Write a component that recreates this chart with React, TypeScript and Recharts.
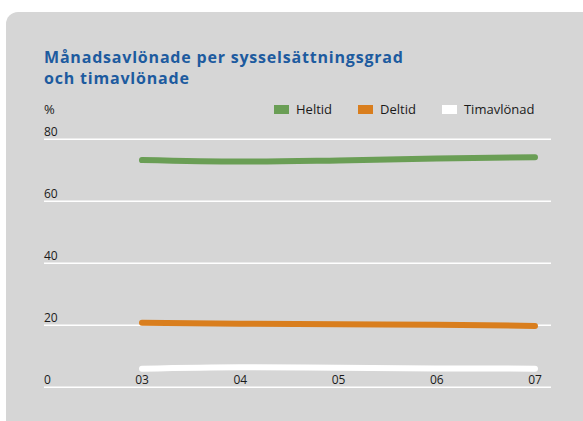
import React from "react";
import { LineChart, Line, XAxis, YAxis, CartesianGrid } from "recharts";

const years = ["03", "04", "05", "06", "07"];
const heltid = [73.3, 72.8, 73.2, 73.8, 74.2];
const deltid = [20.8, 20.5, 20.3, 20.2, 19.8];
const timavlonad = [6.0, 6.5, 6.3, 6.1, 6.0];
const yTicks = [0, 20, 40, 60, 80];

const seriesNames = ["Heltid", "Deltid", "Timavlönad"];
const seriesColors = ["#6a9e55", "#d97e1e", "#ffffff"];

const data = years.map((y, i) => ({
  year: y,
  Heltid: heltid[i],
  Deltid: deltid[i],
  Timavlönad: timavlonad[i],
}));

const FONT = "'Open Sans', 'Noto Sans', sans-serif";

const renderYTick = (props: any) => {
  const { y, payload } = props;
  return (
    <text x={44} y={y - 3} textAnchor="start" fontSize={12} fontFamily={FONT} fill="#1a1a1a">
      {payload.value}
    </text>
  );
};

const renderXTick = (props: any) => {
  const { x, payload } = props;
  return (
    <text x={x} y={384} textAnchor="middle" fontSize={12} fontFamily={FONT} fill="#1a1a1a">
      {payload.value}
    </text>
  );
};

export default function App() {
  return (
    <div style={{ position: "absolute", left: 0, top: 0, width: 583, height: 421, background: "#ffffff", overflow: "hidden" }}>
      <div style={{ position: "absolute", left: 6, top: 12, width: 600, height: 421, background: "#d6d6d6", borderRadius: 12 }} />
      <div
        style={{
          position: "absolute",
          left: 44,
          top: 46.7,
          fontFamily: FONT,
          fontWeight: 700,
          fontSize: 16,
          letterSpacing: 0.8,
          lineHeight: "21.8px",
          color: "#1d5b9f",
          whiteSpace: "nowrap",
        }}
      >
        <div>Månadsavlönade per sysselsättningsgrad</div>
        <div>och timavlönade</div>
      </div>
      <div style={{ position: "absolute", left: 44, top: 101, fontFamily: FONT, fontSize: 13, lineHeight: "16px", color: "#1a1a1a" }}>%</div>
      <div style={{ position: "absolute", left: 274, top: 101, display: "flex", alignItems: "center", fontFamily: FONT, fontSize: 13, lineHeight: "16px", color: "#1a1a1a" }}>
        {seriesNames.map((n, i) => (
          <div key={n} style={{ display: "flex", alignItems: "center", marginRight: i < seriesNames.length - 1 ? 26 : 0 }}>
            <div style={{ width: 15, height: 9, background: seriesColors[i], marginRight: 7 }} />
            <span>{n}</span>
          </div>
        ))}
      </div>
      <div style={{ position: "absolute", left: 0, top: 0 }}>
        <LineChart
          width={583}
          height={421}
          data={data}
          margin={{ top: 139.3, right: 32, bottom: 32.7, left: 43 }}
        >
          <CartesianGrid horizontal={true} vertical={false} stroke="#ffffff" strokeWidth={1.6} />
          <XAxis
            dataKey="year"
            height={1}
            axisLine={false}
            tickLine={false}
            padding={{ left: 98, right: 16 }}
            tick={renderXTick}
            interval={0}
          />
          <YAxis
            width={1}
            domain={[0, 80]}
            ticks={yTicks}
            interval={0}
            axisLine={false}
            tickLine={false}
            tick={renderYTick}
          />
          {seriesNames.map((n, i) => (
            <Line
              key={n}
              dataKey={n}
              type="monotone"
              stroke={seriesColors[i]}
              strokeWidth={6}
              strokeLinecap="round"
              dot={false}
              activeDot={false}
              isAnimationActive={false}
            />
          ))}
        </LineChart>
      </div>
    </div>
  );
}
